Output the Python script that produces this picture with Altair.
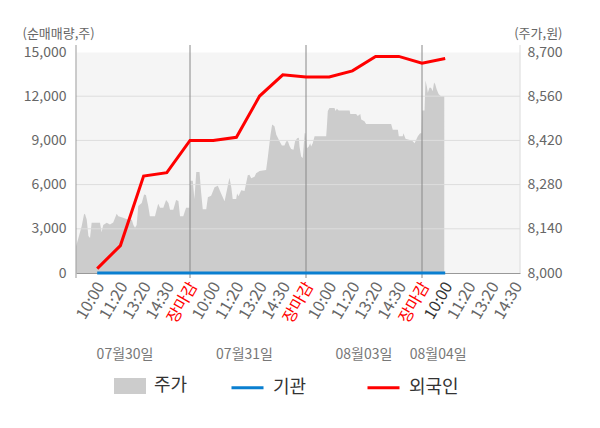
import altair as alt
import pandas as pd

FONT = "Noto Sans CJK KR"

# x positions: each trading day spans 5 index units, 장마감 at 5, 10, 15
tick_labels = ['10:00', '11:20', '13:20', '14:30', '장마감']
tick_pos = list(range(1, 20))
day_lines = [5, 10, 15]
x_domain = [0.086, 19.224]
date_labels = ['07월30일', '07월31일', '08월03일', '08월04일']
date_pos = [2.2, 7.35, 12.5, 15.7]

left_ticks = [0, 3000, 6000, 9000, 12000, 15000]
right_ticks = [8000, 8140, 8280, 8420, 8560, 8700]

# 순매매량 (left axis)
flow_x = [1, 2, 3, 4, 5, 6, 7, 8, 9, 10, 11, 12, 13, 14, 15, 16]
inst_vals = [0, 0, 0, 0, 0, 0, 0, 0, 0, 0, 0, 0, 0, 0, 0, 0]
foreign_vals = [300, 1860, 6580, 6810, 9000, 9000, 9210, 12010, 13450,
                13310, 13310, 13720, 14700, 14700, 14240, 14560]

# 주가 (right axis)
price_x = [0.09, 0.19, 0.33, 0.43, 0.47, 0.55, 0.62, 0.69, 0.76, 1.12, 1.19, 1.26,
           1.41, 1.55, 1.69, 1.84, 1.91, 2.12, 2.34, 2.49, 2.56, 2.63, 2.70, 2.77,
           2.92, 3.02, 3.10, 3.20, 3.27, 3.49, 3.56, 3.63, 3.71, 3.85, 3.97, 4.07,
           4.14, 4.28, 4.40, 4.50, 4.57, 4.71, 4.83, 4.97,
           5.01, 5.12, 5.19, 5.27, 5.41, 5.48, 5.55, 5.70, 5.77, 5.91, 6.06, 6.20,
           6.34, 6.49, 6.56, 6.70, 6.78, 6.84, 6.99, 7.03, 7.09, 7.21, 7.35, 7.49,
           7.56, 7.64, 7.78, 7.85, 8.00, 8.28, 8.35, 8.47, 8.54, 8.64, 8.72, 8.86,
           8.96, 9.07, 9.15, 9.22, 9.29, 9.36, 9.46, 9.53, 9.62, 9.69,
           9.72, 9.79, 9.86, 9.94, 9.98, 10.04, 10.12, 10.18, 10.22, 10.29, 10.37,
           10.87, 10.90, 10.94, 11.01, 11.23, 11.27, 11.33, 11.41, 11.88, 11.91,
           12.16, 12.23, 12.34, 12.38, 12.52, 12.59, 13.67, 13.74, 13.96, 14.00,
           14.17, 14.20, 14.29, 14.58, 14.68, 14.75, 14.82, 14.92, 14.98,
           15.01, 15.11, 15.15, 15.21, 15.25, 15.32, 15.39, 15.46, 15.52, 15.57,
           15.63, 15.72, 15.82, 15.96]
price_vals = [8085, 8111, 8148, 8185, 8188, 8169, 8117, 8111, 8159, 8159, 8129, 8152,
              8159, 8154, 8160, 8188, 8180, 8175, 8169, 8169, 8152, 8143, 8152, 8212,
              8222, 8249, 8247, 8212, 8180, 8180, 8200, 8219, 8207, 8207, 8231, 8222,
              8200, 8200, 8231, 8228, 8180, 8180, 8207, 8207,
              8292, 8292, 8234, 8320, 8320, 8255, 8202, 8202, 8240, 8245, 8272, 8276,
              8252, 8227, 8252, 8302, 8272, 8234, 8234, 8252, 8243, 8262, 8260, 8310,
              8311, 8300, 8305, 8316, 8323, 8326, 8364, 8438, 8470, 8465, 8438, 8417,
              8404, 8404, 8417, 8417, 8402, 8393, 8390, 8417, 8427, 8428,
              8401, 8369, 8364, 8443, 8443, 8395, 8401, 8411, 8401, 8411, 8433,
              8433, 8465, 8513, 8523, 8523, 8513, 8520, 8515, 8515, 8504,
              8504, 8497, 8504, 8486, 8481, 8472, 8472, 8454, 8454, 8433,
              8433, 8443, 8425, 8419, 8411, 8422, 8433, 8443, 8443,
              8515, 8515, 8610, 8590, 8571, 8587, 8587, 8576, 8603, 8598,
              8582, 8566, 8560, 8560]

series_names = ['주가', '기관', '외국인']
series_colors = ['#cccccc', '#0a7fd0', '#ff0000']

price_df = pd.DataFrame({'x': price_x, 'price': price_vals, 'series': series_names[0]})
flow_df = pd.DataFrame({
    'x': flow_x + flow_x,
    'value': inst_vals + foreign_vals,
    'series': [series_names[1]] * len(flow_x) + [series_names[2]] * len(flow_x),
})
grid_df = pd.DataFrame({'value': left_ticks[1:-1]})
day_df = pd.DataFrame({'x': day_lines})
edge_df = pd.DataFrame({'x': x_domain})
date_df = pd.DataFrame({'x': date_pos, 'label': date_labels})

W, H = 444, 221

label_expr = "[" + ",".join("'%s'" % t for t in tick_labels) + "][(datum.value - 1) % 5]"
xscale = alt.Scale(domain=x_domain, nice=False, zero=False)
xaxis = alt.Axis(
    values=tick_pos, labelExpr=label_expr, labelAngle=-60, labelAlign='right',
    labelBaseline='middle', labelFontSize=16, labelFont=FONT, labelPadding=10,
    labelOffset=3, labelOverlap=False, labelBound=False, labelFlush=False,
    labelColor={"condition": [{"test": "datum.value % 5 == 0", "value": "#ff0000"},
                              {"test": "datum.value == 16", "value": "#333333"}],
                "value": "#666666"},
    grid=False, ticks=False, domainColor='#999999', title=None,
)

area = alt.Chart(price_df).mark_area(interpolate='linear', opacity=1).encode(
    x=alt.X('x:Q', scale=xscale, axis=xaxis),
    y=alt.Y('price:Q', scale=alt.Scale(domain=[right_ticks[0], right_ticks[-1]], nice=False, zero=False),
            axis=alt.Axis(orient='right', values=right_ticks, format=',d', grid=False, ticks=False,
                          domain=False, labelPadding=7, labelFontSize=14, labelFont=FONT,
                          labelColor='#666666', title='(주가,원)', titleAngle=0, titleX=42,
                          titleY=-19, titleAlign='right', titleBaseline='middle',
                          titleFontSize=13, titleFontWeight='normal', titleFont=FONT,
                          titleColor='#666666')),
    y2=alt.datum(right_ticks[0]),
    fill=alt.Fill('series:N', scale=alt.Scale(domain=series_names[:1], range=series_colors[:1]),
                  legend=alt.Legend(title=None, orient='none', legendX=38, legendY=318,
                                    symbolType='M-1,-0.5L1,-0.5L1,0.5L-1,0.5Z', symbolSize=1024,
                                    symbolStrokeWidth=0, symbolOpacity=1, labelFontSize=18,
                                    labelFont=FONT, labelColor='#333333', labelOffset=8)),
)

yaxis_left = alt.Axis(orient='left', values=left_ticks, format=',d', grid=False, ticks=False,
                      domain=False, labelPadding=10, labelFontSize=14, labelFont=FONT,
                      labelColor='#666666', title='(순매매량,주)', titleAngle=0, titleX=-54,
                      titleY=-19, titleAlign='left', titleBaseline='middle', titleFontSize=13,
                      titleFontWeight='normal', titleFont=FONT, titleColor='#666666')
yscale_left = alt.Scale(domain=[left_ticks[0], left_ticks[-1]], nice=False)

grid = alt.Chart(grid_df).mark_rule(color='#dddddd', strokeWidth=1).encode(
    y=alt.Y('value:Q', scale=yscale_left, axis=yaxis_left),
)
days = alt.Chart(day_df).mark_rule(color='#888888', strokeWidth=1).encode(
    x=alt.X('x:Q', scale=xscale, axis=xaxis), y=alt.value(-7), y2=alt.value(H + 5),
)
left_edge = alt.Chart(edge_df.iloc[:1]).mark_rule(color='#999999', strokeWidth=1).encode(
    x=alt.X('x:Q', scale=xscale, axis=xaxis), y=alt.value(-7), y2=alt.value(H + 5),
)
right_edge = alt.Chart(edge_df.iloc[1:]).mark_rule(color='#dddddd', strokeWidth=1).encode(
    x=alt.X('x:Q', scale=xscale, axis=xaxis), y=alt.value(-7), y2=alt.value(H),
)
lines = alt.Chart(flow_df).mark_line(strokeWidth=3, interpolate='linear').encode(
    x=alt.X('x:Q', scale=xscale, axis=xaxis),
    y=alt.Y('value:Q', scale=yscale_left, axis=yaxis_left),
    stroke=alt.Stroke('series:N', scale=alt.Scale(domain=series_names[1:], range=series_colors[1:]),
                      legend=alt.Legend(title=None, orient='none', direction='horizontal',
                                        legendX=154, legendY=318, symbolType='stroke',
                                        symbolSize=1024, symbolStrokeWidth=3, labelFontSize=18,
                                        labelFont=FONT, labelColor='#333333', labelOffset=8,
                                        columnPadding=54)),
    order=alt.Order('series:N', sort='ascending'),
)
dates = alt.Chart(date_df).mark_text(fontSize=14, font=FONT, color='#777777').encode(
    x=alt.X('x:Q', scale=xscale, axis=xaxis), y=alt.value(303), text='label:N',
)

inner = alt.layer(grid, days, left_edge, right_edge, lines, dates)
chart = alt.layer(area, inner).resolve_scale(y='independent').properties(
    width=W, height=H,
    autosize=alt.AutoSizeParams(type='none'),
    padding={'left': 68, 'top': 44, 'right': 72, 'bottom': 147},
).configure_view(fill='#f5f5f5', stroke='transparent')

chart.save("out.html", embed_options={"renderer": "svg", "actions": False})
